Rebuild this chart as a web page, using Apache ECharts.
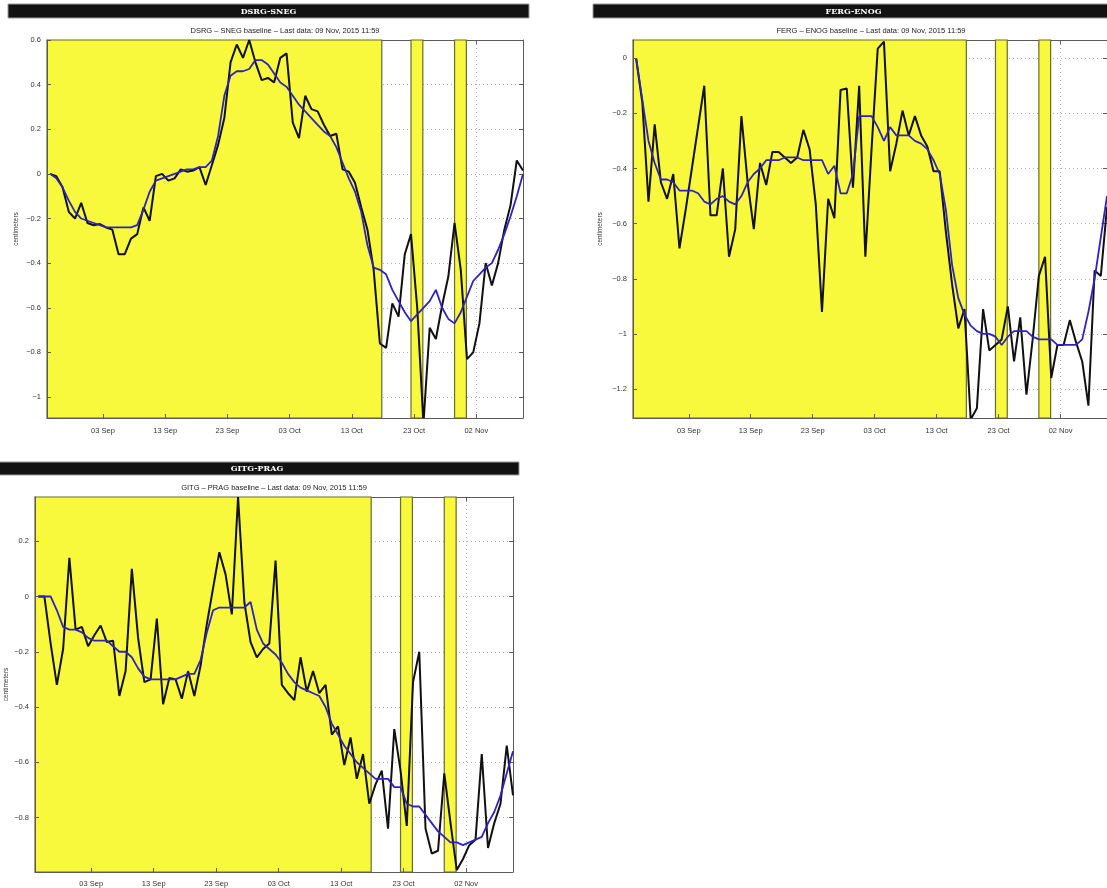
<!DOCTYPE html>
<html><head><meta charset="utf-8">
<script src="https://cdn.jsdelivr.net/npm/echarts@6/dist/echarts.min.js"></script>
<style>html,body{margin:0;padding:0;background:#fff}#c{width:1107px;height:888px}</style>
</head><body><div id="c"></div>
<script>
// x values are days relative to 03 Sep 2015; first sample 25 Aug 12:00, daily
const firstDay = -8.5;
const xMinDay = -9, xMaxDay = 67.5;
const tickDays = [0, 10, 20, 30, 40, 50, 60];
const tickLabels = ['03 Sep', '13 Sep', '23 Sep', '03 Oct', '13 Oct', '23 Oct', '02 Nov'];
const yellowSpans = [[-9, 44.8], [49.5, 51.4], [56.5, 58.4]];

const panelTitles = ['DSRG-SNEG', 'FERG-ENOG', 'GITG-PRAG'];
const panelSubtitles = [
  'DSRG \u2013 SNEG baseline \u2013 Last data: 09 Nov, 2015 11:59',
  'FERG \u2013 ENOG baseline \u2013 Last data: 09 Nov, 2015 11:59',
  'GITG \u2013 PRAG baseline \u2013 Last data: 09 Nov, 2015 11:59'
];
const yAxisName = 'centimeters';

const dsrgRange = [-1.094, 0.6];
const dsrgTicks = [-1, -0.8, -0.6, -0.4, -0.2, 0, 0.2, 0.4, 0.6];
const dsrgDaily = [0, -0.01, -0.06, -0.17, -0.2, -0.13, -0.22, -0.23, -0.225, -0.24,
  -0.25, -0.36, -0.36, -0.29, -0.27, -0.15, -0.21, -0.01, 0.0, -0.03,
  -0.02, 0.02, 0.01, 0.015, 0.03, -0.05, 0.04, 0.13, 0.25, 0.5,
  0.58, 0.52, 0.6, 0.5, 0.42, 0.43, 0.41, 0.52, 0.54, 0.23,
  0.16, 0.35, 0.29, 0.28, 0.22, 0.17, 0.18, 0.02, 0.01, -0.04,
  -0.15, -0.25, -0.43, -0.76, -0.78, -0.58, -0.64, -0.36, -0.27, -0.6,
  -1.12, -0.69, -0.74, -0.59, -0.46, -0.22, -0.43, -0.83, -0.80, -0.67,
  -0.40, -0.50, -0.40, -0.25, -0.14, 0.06, 0.015];
const dsrgSmooth = [0, -0.02, -0.06, -0.12, -0.17, -0.2, -0.21, -0.22, -0.23, -0.24,
  -0.24, -0.24, -0.24, -0.24, -0.23, -0.16, -0.08, -0.03, -0.02, -0.01,
  0.0, 0.01, 0.02, 0.02, 0.03, 0.03, 0.06, 0.17, 0.35, 0.44,
  0.46, 0.46, 0.47, 0.51, 0.51, 0.49, 0.45, 0.41, 0.39, 0.35,
  0.31, 0.28, 0.25, 0.22, 0.19, 0.17, 0.12, 0.05, -0.02, -0.08,
  -0.17, -0.32, -0.42, -0.43, -0.45, -0.52, -0.57, -0.62, -0.66, -0.63,
  -0.6, -0.57, -0.52, -0.6, -0.65, -0.67, -0.62, -0.55, -0.48, -0.45,
  -0.42, -0.40, -0.34, -0.27, -0.19, -0.1, 0.0];

const fergRange = [-1.305, 0.066];
const fergTicks = [-1.2, -1, -0.8, -0.6, -0.4, -0.2, 0];
const fergDaily = [0, -0.16, -0.52, -0.24, -0.45, -0.51, -0.42, -0.69, -0.55, -0.40,
  -0.25, -0.10, -0.57, -0.57, -0.40, -0.72, -0.62, -0.21, -0.45, -0.62,
  -0.38, -0.46, -0.34, -0.34, -0.36, -0.38, -0.36, -0.26, -0.33, -0.53,
  -0.92, -0.51, -0.58, -0.115, -0.11, -0.47, -0.10, -0.72, -0.33, 0.035,
  0.06, -0.41, -0.31, -0.19, -0.28, -0.21, -0.28, -0.32, -0.41, -0.41,
  -0.63, -0.82, -0.98, -0.91, -1.31, -1.27, -0.91, -1.06, -1.04, -1.02,
  -0.9, -1.1, -0.94, -1.22, -1.02, -0.79, -0.72, -1.16, -1.04, -1.04,
  -0.95, -1.03, -1.1, -1.26, -0.77, -0.79, -0.54];
const fergSmooth = [0, -0.15, -0.3, -0.38, -0.44, -0.44, -0.45, -0.48, -0.48, -0.48,
  -0.49, -0.52, -0.53, -0.51, -0.5, -0.52, -0.53, -0.5, -0.45, -0.42,
  -0.40, -0.37, -0.37, -0.37, -0.36, -0.36, -0.36, -0.37, -0.37, -0.37,
  -0.37, -0.42, -0.39, -0.49, -0.49, -0.42, -0.21, -0.21, -0.21, -0.25,
  -0.3, -0.25, -0.28, -0.28, -0.28, -0.3, -0.31, -0.33, -0.37, -0.42,
  -0.55, -0.75, -0.87, -0.93, -0.97, -0.99, -1.0, -1.0, -1.01, -1.04,
  -1.01, -0.99, -0.99, -0.99, -1.01, -1.02, -1.02, -1.02, -1.04, -1.04,
  -1.04, -1.04, -1.02, -0.92, -0.8, -0.65, -0.5];

const gitgRange = [-0.997, 0.36];
const gitgTicks = [-0.8, -0.6, -0.4, -0.2, 0, 0.2];
const gitgDaily = [0, 0.0, -0.17, -0.32, -0.19, 0.14, -0.12, -0.11, -0.18, -0.14,
  -0.105, -0.165, -0.16, -0.36, -0.27, 0.1, -0.15, -0.31, -0.3, -0.08,
  -0.39, -0.295, -0.3, -0.37, -0.27, -0.36, -0.25, -0.1, 0.03, 0.16,
  0.08, -0.065, 0.36, -0.02, -0.165, -0.22, -0.19, -0.17, 0.13, -0.32,
  -0.35, -0.375, -0.22, -0.345, -0.27, -0.35, -0.32, -0.5, -0.47, -0.61,
  -0.51, -0.66, -0.57, -0.75, -0.68, -0.63, -0.84, -0.48, -0.63, -0.83,
  -0.31, -0.2, -0.84, -0.93, -0.92, -0.64, -0.82, -0.99, -0.95, -0.9,
  -0.88, -0.57, -0.91, -0.82, -0.75, -0.54, -0.72];
const gitgSmooth = [0, 0, 0, -0.05, -0.11, -0.12, -0.12, -0.13, -0.15, -0.16,
  -0.16, -0.16, -0.18, -0.2, -0.2, -0.22, -0.26, -0.29, -0.3, -0.3,
  -0.3, -0.3, -0.3, -0.29, -0.28, -0.28, -0.23, -0.13, -0.05, -0.04,
  -0.04, -0.04, -0.04, -0.04, -0.02, -0.12, -0.17, -0.19, -0.21, -0.24,
  -0.28, -0.31, -0.33, -0.34, -0.35, -0.36, -0.4, -0.46, -0.5, -0.54,
  -0.57, -0.6, -0.62, -0.64, -0.66, -0.66, -0.66, -0.69, -0.69, -0.75,
  -0.76, -0.76, -0.79, -0.82, -0.85, -0.87, -0.89, -0.89, -0.9, -0.89,
  -0.88, -0.87, -0.82, -0.78, -0.72, -0.64, -0.56];

// ---- layout / style (not data) ----
const layout = [
  {grid: {left: 47, top: 40, width: 476, height: 378}, bar: [8, 4, 521, 14], nameGap: 27, labelMargin: 9},
  {grid: {left: 633, top: 40, width: 476, height: 378}, bar: [593, 4, 521, 14], nameGap: 29, labelMargin: 9},
  {grid: {left: 35, top: 497, width: 478, height: 378}, bar: [-5, 462, 524, 13], nameGap: 25, labelMargin: 8}
];
const panels = [
  {range: dsrgRange, ticks: dsrgTicks, daily: dsrgDaily, smooth: dsrgSmooth},
  {range: fergRange, ticks: fergTicks, daily: fergDaily, smooth: fergSmooth},
  {range: gitgRange, ticks: gitgTicks, daily: gitgDaily, smooth: gitgSmooth}
];

const YELLOW = '#f8f83c';
const BLUE = '#2c22c6';
const FRAME = '#5a5a5a';
const GRIDC = '#b0b0b0';
const FONT = '"Liberation Sans", Arial, sans-serif';

const fmtY = v => {
  const r = Math.round(v * 10) / 10;
  return (r === 0 ? '0' : String(r)).replace('-', '\u2212');
};
const fmtX = v => {
  const i = tickDays.indexOf(Math.round(v));
  return i >= 0 ? tickLabels[i] : '';
};
const toPairs = arr => arr.map((v, i) => [firstDay + i, v]);

const grids = [], xAxes = [], yAxes = [], series = [], graphics = [];
panels.forEach((p, i) => {
  const L = layout[i];
  grids.push(Object.assign({containLabel: false, show: false}, L.grid));
  const common = {gridIndex: i, type: 'value', min: xMinDay, max: xMaxDay};
  xAxes.push(Object.assign({}, common, {
    position: 'bottom', z: 5,
    axisLine: {show: true, onZero: false, lineStyle: {color: FRAME, width: 1}},
    axisTick: {show: true, inside: true, length: 4, customValues: tickDays, lineStyle: {color: FRAME}},
    axisLabel: {show: true, customValues: tickDays, formatter: fmtX, fontSize: 7.5, color: '#333', fontFamily: FONT, margin: L.labelMargin},
    splitLine: {show: false}
  }));
  xAxes.push(Object.assign({}, common, {
    position: 'top', z: 0,
    axisLine: {show: true, onZero: false, lineStyle: {color: FRAME, width: 1}},
    axisTick: {show: true, inside: true, length: 4, customValues: tickDays, lineStyle: {color: FRAME}},
    axisLabel: {show: false},
    splitLine: {show: true, lineStyle: {color: GRIDC, type: [1, 3], width: 1}}
  }));
  const yc = {gridIndex: i, type: 'value', min: p.range[0], max: p.range[1]};
  yAxes.push(Object.assign({}, yc, {
    position: 'left', z: 5,
    name: yAxisName, nameLocation: 'middle', nameGap: L.nameGap,
    nameTextStyle: {fontSize: 6.5, color: '#333', fontFamily: FONT},
    axisLine: {show: true, onZero: false, lineStyle: {color: FRAME, width: 1}},
    axisTick: {show: true, inside: true, length: 4, customValues: p.ticks, lineStyle: {color: FRAME}},
    axisLabel: {show: true, customValues: p.ticks, formatter: fmtY, fontSize: 7.5, color: '#333', fontFamily: FONT, margin: 6},
    splitLine: {show: false}
  }));
  yAxes.push(Object.assign({}, yc, {
    position: 'right', z: 0,
    axisLine: {show: true, onZero: false, lineStyle: {color: FRAME, width: 1}},
    axisTick: {show: true, inside: true, length: 4, customValues: p.ticks, lineStyle: {color: FRAME}},
    axisLabel: {show: false},
    splitLine: {show: true, lineStyle: {color: GRIDC, type: [1, 3], width: 1}}
  }));
  series.push({
    type: 'line', xAxisIndex: 2 * i, yAxisIndex: 2 * i,
    data: toPairs(p.daily), showSymbol: false, symbol: 'none', z: 3,
    lineStyle: {color: '#111', width: 2}, clip: true,
    markArea: {
      silent: true, z: 1,
      itemStyle: {color: YELLOW, borderColor: '#6b6b30', borderWidth: 1.2},
      data: yellowSpans.map(s => [{xAxis: s[0]}, {xAxis: s[1]}])
    }
  });
  series.push({
    type: 'line', xAxisIndex: 2 * i, yAxisIndex: 2 * i,
    data: toPairs(p.smooth), showSymbol: false, symbol: 'none', z: 4,
    lineStyle: {color: BLUE, width: 1.8}, clip: true
  });
  const b = L.bar;
  graphics.push({type: 'rect', shape: {x: b[0], y: b[1], width: b[2], height: b[3]},
    style: {fill: '#121212', stroke: '#9a9a9a', lineWidth: 1}, z: 10});
  graphics.push({type: 'text', x: b[0] + b[2] / 2, y: b[1] + b[3] / 2 + 0.5, z: 11,
    style: {text: panelTitles[i], fill: '#fff', font: 'bold 8px "DejaVu Serif", serif',
      textAlign: 'center', textVerticalAlign: 'middle', align: 'center', verticalAlign: 'middle'}});
  const g = L.grid;
  graphics.push({type: 'text', x: g.left + g.width / 2, y: g.top - 9, z: 11,
    style: {text: panelSubtitles[i], fill: '#222', font: '7.5px ' + FONT,
      textAlign: 'center', textVerticalAlign: 'middle', align: 'center', verticalAlign: 'middle'}});
});

const chart = echarts.init(document.getElementById('c'), null, {renderer: 'canvas'});
chart.setOption({
  animation: false,
  backgroundColor: '#fff',
  grid: grids, xAxis: xAxes, yAxis: yAxes, series: series, graphic: graphics
});
</script>
</body></html>
